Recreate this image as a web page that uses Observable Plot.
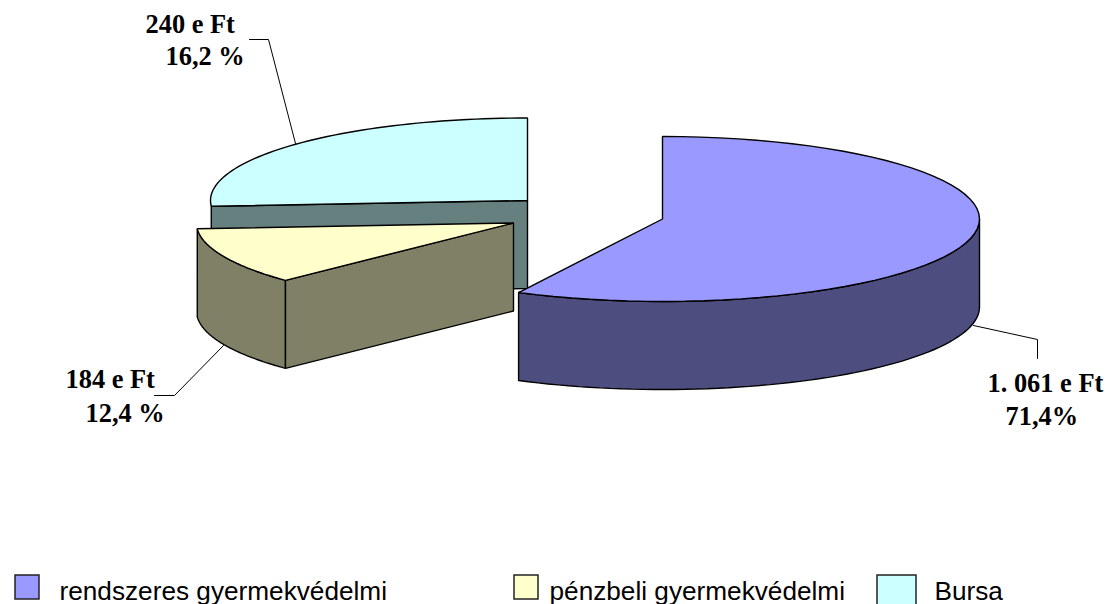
<!DOCTYPE html>
<html><head><meta charset="utf-8">
<script src="https://cdn.jsdelivr.net/npm/d3@7"></script>
<script src="https://cdn.jsdelivr.net/npm/@observablehq/plot@0.6"></script>
<style>html,body{margin:0;padding:0;background:#fff;overflow:hidden}svg{display:block}</style>
</head><body><div id="chart"></div>
<script>
// Data
const categories = ["rendszeres gyermekvédelmi", "pénzbeli gyermekvédelmi", "Bursa"];
const amountLabels = ["1. 061 e Ft", "184 e Ft", "240 e Ft"];
const shareLabels = ["71,4%", "12,4 %", "16,2 %"];
// Angles of each slice as drawn (degrees clockwise from 12 o'clock)
const startAngles = [0, 226, 266];
const endAngles = [207, 266, 360];

// Layout
const colors = ["#9999ff", "#ffffcc", "#ccffff"];
const sideColors = ["#4d4d80", "#808066", "#668080"];
const apex = [[662, 218.5], [513, 222.5], [527, 200]];
const RX = 317, RY = 82.5, DEPTH = 88;
const amountPos = [[987, 391], [65, 387], [145, 32]];
const sharePos = [[1005, 424], [85, 421], [165, 64]];
const leaders = [
  [[973, 325], [1037, 339], [1037, 358]],
  [[223, 345], [174, 395], [154, 395]],
  [[295, 143], [268, 39], [249, 39]]
];
const swatches = [[15, 39, 575, 599], [514, 538, 575, 599], [877, 916, 575, 606]];
const legendText = [59, 549, 934];

const rim = (i, a0, a1, dz = 0) => d3.range(0, 61).map(k => {
  const t = (a0 + (a1 - a0) * k / 60) * Math.PI / 180;
  return [apex[i][0] + RX * Math.sin(t), apex[i][1] - RY * Math.cos(t) + dz];
});
const tip = (i, a, dz = 0) => rim(i, a, a, dz)[0];
const drop = (i, dz = DEPTH) => [apex[i][0], apex[i][1] + dz];

const topFace = i => [apex[i], ...rim(i, startAngles[i], endAngles[i])];
const poly = (pts, fill) => Plot.line(pts, {
  x: d => d[0], y: d => d[1], curve: "linear-closed",
  fill, stroke: "#000", strokeWidth: 1.4, strokeLinejoin: "miter"
});

const chartMarks = [
  // Bursa: back radial wall, then top
  poly([tip(2, startAngles[2]), apex[2], drop(2), tip(2, startAngles[2], DEPTH)], sideColors[2]),
  poly(topFace(2), colors[2]),
  // Yellow: curved wall, radial wall, top
  poly([...rim(1, startAngles[1], endAngles[1]), ...rim(1, endAngles[1], startAngles[1], DEPTH)], sideColors[1]),
  poly([tip(1, startAngles[1]), apex[1], drop(1), tip(1, startAngles[1], DEPTH)], sideColors[1]),
  poly(topFace(1), colors[1]),
  // Blue: curved wall, top
  poly([...rim(0, 90, endAngles[0]), ...rim(0, endAngles[0], 90, DEPTH)], sideColors[0]),
  poly(topFace(0), colors[0]),
  // Leaders
  ...leaders.map(l => Plot.line(l, {x: d => d[0], y: d => d[1], stroke: "#000", strokeWidth: 1})),
  // Labels
  Plot.text(categories.map((c, i) => i), {
    x: i => amountPos[i][0], y: i => amountPos[i][1], text: i => amountLabels[i],
    textAnchor: "start", lineAnchor: "bottom", fontFamily: "Liberation Serif", fontWeight: "bold", fontSize: 26.4, fill: "#000"
  }),
  Plot.text(categories.map((c, i) => i), {
    x: i => sharePos[i][0], y: i => sharePos[i][1], text: i => shareLabels[i],
    textAnchor: "start", lineAnchor: "bottom", fontFamily: "Liberation Serif", fontWeight: "bold", fontSize: 26.4, fill: "#000"
  }),
  // Legend
  ...categories.map((c, i) => Plot.rect([i], {
    x1: () => swatches[i][0], x2: () => swatches[i][1], y1: () => swatches[i][2], y2: () => swatches[i][3],
    fill: colors[i], stroke: "#222", strokeWidth: 1.5
  })),
  Plot.text(categories, {
    x: (c, i) => legendText[i], y: () => 599, text: c => c,
    textAnchor: "start", lineAnchor: "bottom", fontFamily: "Liberation Sans", fontSize: 26.2, fill: "#000"
  })
];

document.getElementById("chart").append(Plot.plot({
  width: 1110, height: 604, margin: 0,
  x: {domain: [0, 1110], range: [0, 1110], axis: null},
  y: {domain: [0, 604], range: [0, 604], axis: null},
  style: {background: "#fff"},
  marks: chartMarks
}));
</script></body></html>
